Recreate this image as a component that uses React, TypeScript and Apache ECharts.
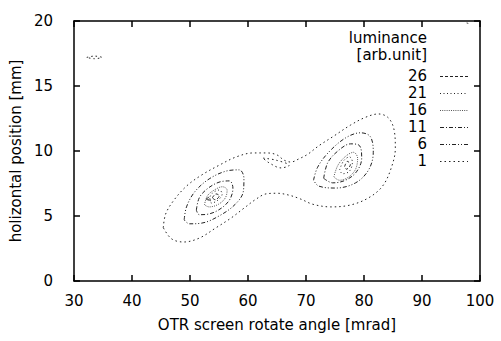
import React, { useEffect, useRef } from "react";
import * as echarts from "echarts";

// contour levels shown in the key (luminance, arb. unit)
const levels = [26, 21, 16, 11, 6, 1];

// level 1 contours
const level1Outer: number[][] = [
  [45.4, 4.1], [45.8, 5.15], [47.2, 6.2], [49.4, 7.3], [52.0, 8.15], [55.0, 8.9], [58.0, 9.55],
  [60.9, 9.85], [63.3, 9.85], [65.0, 9.7], [66.2, 9.3], [67.4, 9.15], [68.8, 9.4], [70.3, 9.75],
  [72.2, 10.4], [74.8, 11.15], [77.7, 12.0], [80.3, 12.6], [82.5, 12.85], [84.2, 12.55], [85.2, 11.6],
  [85.4, 10.2], [84.7, 8.7], [83.2, 7.3], [80.8, 6.4], [77.7, 5.85], [74.3, 5.7], [71.2, 5.9],
  [69.1, 6.3], [67.1, 6.6], [65.0, 6.75], [63.1, 6.7], [61.4, 6.3], [59.3, 5.6], [57.1, 4.85],
  [54.5, 4.1], [51.6, 3.3], [48.9, 3.0], [46.8, 3.25], [45.4, 4.1],
];
const level1Notch: number[][] = [
  [62.6, 9.45], [64.8, 9.3], [67.1, 8.9], [65.7, 8.7], [63.6, 9.1], [62.6, 9.45],
];
const level1Speck: number[][] = [
  [32.2, 17.2], [33.5, 17.3], [34.8, 17.2], [33.5, 17.1], [32.2, 17.2],
];
const level1Corner: number[][] = [
  [97.7, 19.85], [98.1, 19.8],
];

// level 6 contours
const level6Left: number[][] = [
  [49.0, 4.7], [49.4, 5.7], [50.8, 6.85], [53.3, 7.85], [56.2, 8.45], [58.5, 8.55], [59.3, 7.9],
  [59.2, 6.9], [57.8, 5.9], [55.0, 5.0], [52.0, 4.45], [49.9, 4.4], [49.0, 4.7],
];
const level6Right: number[][] = [
  [71.3, 7.75], [72.0, 8.75], [73.9, 9.9], [76.8, 11.0], [79.4, 11.4], [81.1, 11.1], [81.6, 9.9],
  [80.8, 8.55], [78.55, 7.55], [75.1, 7.15], [72.2, 7.3], [71.3, 7.75],
];

// level 11 contours
const level11Left: number[][] = [
  [51.1, 5.45], [51.6, 6.4], [53.0, 7.1], [55.0, 7.6], [56.8, 7.7], [57.4, 7.15], [56.9, 6.3],
  [55.4, 5.6], [53.2, 5.15], [51.6, 5.1], [51.1, 5.45],
];
const level11Right: number[][] = [
  [73.05, 7.9], [73.75, 9.1], [75.5, 10.0], [77.7, 10.55], [79.25, 10.4], [79.6, 9.45], [78.7, 8.4],
  [76.8, 7.75], [74.6, 7.55], [73.05, 7.9],
];

// level 16 contours
const level16Left: number[][] = [
  [52.5, 5.85], [53.0, 6.55], [54.2, 7.0], [55.6, 7.25], [56.4, 7.0], [56.1, 6.4], [54.9, 5.9],
  [53.3, 5.7], [52.5, 5.85],
];
const level16Right: number[][] = [
  [74.8, 8.0], [75.5, 8.9], [76.85, 9.6], [78.2, 9.9], [78.9, 9.45], [78.55, 8.6], [77.35, 8.0],
  [75.8, 7.75], [74.8, 8.0],
];

// level 21 contours
const level21Left: number[][] = [
  [53.2, 6.25], [53.85, 6.75], [55.05, 7.0], [55.55, 6.7], [54.9, 6.25], [53.7, 6.0], [53.2, 6.25],
];
const level21Right: number[][] = [
  [75.8, 8.55], [76.5, 9.25], [77.5, 9.55], [78.0, 9.15], [77.5, 8.45], [76.3, 8.25], [75.8, 8.55],
];

// level 26 contours
const level26LeftA: number[][] = [
  [53.85, 6.4], [54.5, 6.7], [55.05, 6.55], [54.35, 6.25], [53.85, 6.4],
];
const level26LeftB: number[][] = [
  [52.8, 6.3], [53.3, 6.45], [53.5, 6.15], [52.8, 6.3],
];
const level26Right: number[][] = [
  [76.65, 8.8], [77.15, 9.2], [77.65, 8.95], [76.95, 8.6], [76.65, 8.8],
];

const FONT = "DejaVu Sans";

const dashes: Record<number, number[]> = {
  26: [3, 2],
  21: [1, 2.5],
  16: [1, 1.2],
  11: [4, 2, 1, 2],
  6: [4, 2, 1, 2, 1, 2],
  1: [1.5, 3],
};
const strokeColor: Record<number, string> = {
  26: "#222", 21: "#222", 16: "#555", 11: "#222", 6: "#222", 1: "#222",
};

const contourSets: { level: number; pts: number[][] }[] = [
  { level: 1, pts: level1Outer },
  { level: 1, pts: level1Notch },
  { level: 1, pts: level1Speck },
  { level: 1, pts: level1Corner },
  { level: 6, pts: level6Left },
  { level: 6, pts: level6Right },
  { level: 11, pts: level11Left },
  { level: 11, pts: level11Right },
  { level: 16, pts: level16Left },
  { level: 16, pts: level16Right },
  { level: 21, pts: level21Left },
  { level: 21, pts: level21Right },
  { level: 26, pts: level26LeftA },
  { level: 26, pts: level26LeftB },
  { level: 26, pts: level26Right },
];

export default function App() {
  const ref = useRef<HTMLDivElement>(null);
  useEffect(() => {
    if (!ref.current) return;
    const chart = echarts.init(ref.current, undefined, { renderer: "svg" });

    const axisLine = { show: true, onZero: false, lineStyle: { color: "#000", width: 1.5 } };
    const axisTick = { show: true, inside: true, length: 6, lineStyle: { color: "#000", width: 1.5 } };
    const labelStyle = { color: "#000", fontFamily: FONT, fontSize: 15 };

    const series: any[] = contourSets.map((c) => ({
      type: "line",
      name: String(c.level),
      data: c.pts,
      xAxisIndex: 0,
      yAxisIndex: 0,
      symbol: "none",
      showSymbol: false,
      smooth: 0.35,
      silent: true,
      lineStyle: { color: strokeColor[c.level], width: 1, type: dashes[c.level] },
    }));

    // key (legend) drawn as graphic
    const keyRight = 427;
    const rowTop = 76;
    const rowStep = 17;
    const graphic: any[] = [
      {
        type: "text",
        x: keyRight,
        y: 38,
        style: { text: "luminance", align: "right", verticalAlign: "middle", fill: "#000", fontFamily: FONT, fontSize: 15 },
      },
      {
        type: "text",
        x: keyRight,
        y: 55,
        style: { text: "[arb.unit]", align: "right", verticalAlign: "middle", fill: "#000", fontFamily: FONT, fontSize: 15 },
      },
    ];
    levels.forEach((lv, i) => {
      const y = rowTop + i * rowStep;
      graphic.push({
        type: "text",
        x: keyRight,
        y,
        style: { text: String(lv), align: "right", verticalAlign: "middle", fill: "#000", fontFamily: FONT, fontSize: 15 },
      });
      graphic.push({
        type: "line",
        shape: { x1: 440, y1: y + 0.5, x2: 468, y2: y + 0.5 },
        style: { stroke: strokeColor[lv], lineWidth: 1, lineDash: dashes[lv] },
      });
    });

    chart.setOption({
      animation: false,
      backgroundColor: "#fff",
      grid: { left: 72, right: 21, top: 21, bottom: 60, containLabel: false },
      xAxis: [
        {
          type: "value",
          position: "bottom",
          min: 30,
          max: 100,
          interval: 10,
          axisLine,
          axisTick,
          splitLine: { show: false },
          axisLabel: { ...labelStyle, margin: 12 },
          name: "OTR screen rotate angle [mrad]",
          nameLocation: "middle",
          nameGap: 36,
          nameTextStyle: { color: "#000", fontFamily: FONT, fontSize: 15 },
        },
        {
          type: "value",
          position: "top",
          min: 30,
          max: 100,
          interval: 10,
          axisLine,
          axisTick,
          splitLine: { show: false },
          axisLabel: { show: false },
        },
      ],
      yAxis: [
        {
          type: "value",
          position: "left",
          min: 0,
          max: 20,
          interval: 5,
          axisLine,
          axisTick,
          splitLine: { show: false },
          axisLabel: { ...labelStyle, margin: 21 },
          name: "holizontal position [mm]",
          nameLocation: "middle",
          nameGap: 45,
          nameTextStyle: { color: "#000", fontFamily: FONT, fontSize: 15 },
        },
        {
          type: "value",
          position: "right",
          min: 0,
          max: 20,
          interval: 5,
          axisLine,
          axisTick,
          splitLine: { show: false },
          axisLabel: { show: false },
        },
      ],
      series,
      graphic,
    });
    return () => chart.dispose();
  }, []);
  return (
    <div
      ref={ref}
      style={{ position: "absolute", left: 0, top: 0, width: 501, height: 341, background: "#fff" }}
    />
  );
}
